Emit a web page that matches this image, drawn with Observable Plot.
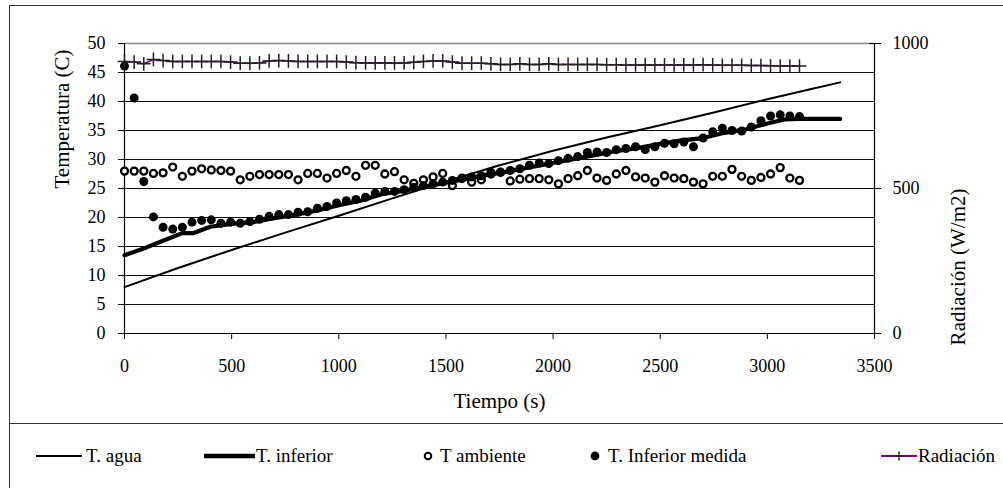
<!DOCTYPE html>
<html><head><meta charset="utf-8">
<script src="https://cdn.jsdelivr.net/npm/d3@7"></script>
<script src="https://cdn.jsdelivr.net/npm/@observablehq/plot@0.6"></script>
<style>
body{margin:0;background:#fff;font-family:"Liberation Serif","Times New Roman",serif;}
#page{position:relative;width:1003px;height:488px;overflow:hidden;background:#fff;}
#chart{position:absolute;left:0;top:0;}
#chart svg text{font-family:"Liberation Serif","Times New Roman",serif;}
#frame{position:absolute;left:9px;top:5px;width:1100px;height:600px;border:1px solid #333;box-sizing:border-box;pointer-events:none;}
#sep{position:absolute;left:9px;top:423px;width:1100px;border-top:1px solid #333;}
#legend{position:absolute;left:0;top:424px;width:1003px;height:64px;font-size:19px;color:#000;}
.item{position:absolute;top:0;height:64px;}
.item svg{position:absolute;top:0;left:0;overflow:visible;}
.item span{position:absolute;top:21px;line-height:22px;white-space:nowrap;}
</style></head><body>
<div id="page"><div id="chart"></div><div id="frame"></div><div id="sep"></div><div id="legend"></div></div>
<script>
// ---- data ----
const tiempos = [0,45,90,135,180,225,270,315,360,405,450,495,540,585,630,675,720,765,810,855,900,945,990,1035,1080,1125,1170,1215,1260,1305,1350,1395,1440,1485,1530,1575,1620,1665,1710,1755,1800,1845,1890,1935,1980,2025,2070,2115,2160,2205,2250,2295,2340,2385,2430,2475,2520,2565,2610,2655,2700,2745,2790,2835,2880,2925,2970,3015,3060,3105,3150];
const tAmbiente = [28.0,28.0,28.0,27.6,27.7,28.7,27.1,28.0,28.4,28.2,28.1,28.0,26.5,27.1,27.4,27.4,27.4,27.4,26.5,27.6,27.6,26.8,27.6,28.1,27.1,29.0,29.0,27.5,27.9,26.5,25.9,26.5,27.0,27.6,25.5,26.8,26.1,26.5,27.5,27.8,26.3,26.6,26.7,26.7,26.5,25.8,26.7,27.2,28.1,26.8,26.4,27.5,28.1,27.0,26.8,26.1,27.2,26.8,26.7,26.1,25.8,27.1,27.1,28.3,27.1,26.4,26.9,27.5,28.6,26.8,26.4];
const tInferiorMedida = [46.1,40.6,26.2,20.1,18.3,18.0,18.3,19.2,19.5,19.6,19.0,19.2,19.0,19.3,19.7,20.2,20.5,20.5,20.9,21.0,21.6,21.9,22.5,22.9,23.1,23.5,24.2,24.5,24.5,24.8,25.2,25.5,25.8,26.1,26.4,26.7,27.0,27.2,27.8,27.8,28.1,28.4,29.0,29.4,29.3,29.8,30.2,30.5,31.2,31.3,31.2,31.7,31.9,32.2,31.7,32.2,32.8,32.7,33.0,32.2,33.7,34.8,35.4,35.0,34.9,35.6,36.7,37.5,37.7,37.5,37.4];
const radiacion = [938,936,930,945,941,938,938,938,938,938,938,936,932,932,933,940,941,940,938,938,938,938,938,936,934,933,933,933,933,933,935,938,940,940,936,932,932,932,930,928,928,930,928,928,930,928,928,928,928,928,927,927,926,926,926,926,926,926,926,926,927,926,925,925,925,924,924,923,922,922,922];
const tiemposAgua = [0,250,500,750,1000,1250,1500,1750,2000,2250,2500,2750,3000,3200,3340];
const tAgua = [8.0,11.3,14.4,17.4,20.3,23.3,26.2,29.0,31.5,33.8,35.9,38.1,40.4,42.1,43.3];
const tiemposInferior = [0,100,200,270,320,400,500,600,700,800,900,1000,1100,1200,1300,1400,1500,1600,1700,1800,1900,2000,2100,2200,2300,2400,2500,2600,2700,2800,2900,3000,3080,3150,3250,3340];
const tInferior = [13.5,14.8,16.3,17.3,17.3,18.4,18.9,19.2,19.9,20.5,21.2,22.1,22.9,24.0,24.6,25.3,26.0,26.7,27.4,28.0,28.7,29.4,30.1,30.8,31.5,32.0,32.7,33.3,33.7,34.6,35.2,36.2,36.9,37.0,37.0,37.0];
const xTicks = [0,500,1000,1500,2000,2500,3000,3500];
const yTicks = [0,5,10,15,20,25,30,35,40,45,50];
const radTicks = [0,500,1000];
const radFactor = 20; // 1000 W/m2 on the right axis lines up with 50 C on the left

// ---- tables ----
const medidas = tiempos.map((t,i)=>({t, amb:tAmbiente[i], inf:tInferiorMedida[i], rad:radiacion[i]}));
const agua = tiemposAgua.map((t,i)=>({t, v:tAgua[i]}));
const inferior = tiemposInferior.map((t,i)=>({t, v:tInferior[i]}));

const serif = '"Liberation Serif","Times New Roman",serif';
const chart = Plot.plot({
  width:1003, height:423,
  marginLeft:124, marginRight:129, marginTop:43, marginBottom:90,
  style:{fontFamily:serif, fontSize:"18px", background:"transparent", color:"#000", overflow:"visible"},
  x:{domain:[0,3500]},
  y:{domain:[0,50]},
  marks:[
    Plot.gridY(yTicks.filter(d=>d>0 && d<50), {stroke:"#000", strokeOpacity:0.95, strokeWidth:1}),
    Plot.ruleY([50], {stroke:"#888", strokeWidth:1.5}),
    Plot.ruleY([0], {stroke:"#000", strokeWidth:1.2}),
    Plot.ruleX([0], {stroke:"#000", strokeWidth:1.2}),
    Plot.ruleX([3500], {stroke:"#000", strokeWidth:1.2}),
    Plot.axisX({ticks:xTicks, tickSize:6, tickPadding:20, tickFormat:d=>String(d), label:null, fontSize:18, fontFamily:serif}),
    Plot.axisY({ticks:yTicks, tickSize:6, tickPadding:13, tickFormat:d=>String(d), label:null, fontSize:18, fontFamily:serif}),
    Plot.axisY({anchor:"right", ticks:radTicks.map(r=>r/radFactor), tickSize:12, dx:-6, tickFormat:()=>"", label:null}),
    Plot.axisY({anchor:"right", ticks:radTicks.map(r=>r/radFactor), tickSize:0, tickPadding:18, tickFormat:d=>String(Math.round(d*radFactor)), label:null, fontSize:18, fontFamily:serif}),
    Plot.text(["Tiempo (s)"], {text:d=>d, frameAnchor:"bottom", dy:74, fontSize:21, fontFamily:serif}),
    Plot.text(["Temperatura (C)"], {text:d=>d, frameAnchor:"left", dx:-62, rotate:-90, fontSize:21, fontFamily:serif}),
    Plot.text(["Radiación (W/m2)"], {text:d=>d, frameAnchor:"right", dx:84, rotate:-90, fontSize:21, fontFamily:serif}),
    Plot.line(agua, {x:"t", y:"v", stroke:"#000", strokeWidth:2}),
    Plot.line(inferior, {x:"t", y:"v", stroke:"#000", strokeWidth:4.2}),
    Plot.dot(medidas, {x:"t", y:"amb", r:3.5, stroke:"#000", strokeWidth:2.3, fill:"white"}),
    Plot.dot(medidas, {x:"t", y:"inf", r:4.5, fill:"#000", stroke:"none"}),
    Plot.line(medidas, {x:"t", y:d=>d.rad/radFactor, stroke:"#800080", strokeWidth:1.5}),
    Plot.dot(medidas, {x:"t", y:d=>d.rad/radFactor, symbol:"plus", r:4.5, stroke:"#222", strokeWidth:1.5, fill:"none"})
  ]
});
document.getElementById("chart").appendChild(chart);

// ---- legend (HTML below the SVG) ----
const legend = document.getElementById("legend");
const cy = 32;
const items = [
  {label:"T. agua", left:36, textLeft:86, svg:`<line x1="0" x2="46" y1="${cy}" y2="${cy}" stroke="#000" stroke-width="2"/>`},
  {label:"T. inferior", left:204, textLeft:256, svg:`<line x1="0" x2="51" y1="${cy}" y2="${cy}" stroke="#000" stroke-width="4.5"/>`},
  {label:"T ambiente", left:424, textLeft:440, svg:`<circle cx="4" cy="${cy}" r="3.3" fill="white" stroke="#000" stroke-width="2"/>`},
  {label:"T. Inferior medida", left:591, textLeft:608, svg:`<circle cx="4" cy="${cy}" r="4.4" fill="#000"/>`},
  {label:"Radiación", left:881, textLeft:918, svg:`<line x1="0" x2="36" y1="${cy}" y2="${cy}" stroke="#800080" stroke-width="2"/><line x1="18" x2="18" y1="${cy-4.5}" y2="${cy+4.5}" stroke="#222" stroke-width="1.4"/><line x1="13.5" x2="22.5" y1="${cy}" y2="${cy}" stroke="#222" stroke-width="1.4"/>`}
];
for (const it of items) {
  const d = document.createElement("div");
  d.className = "item";
  d.style.left = it.left + "px";
  d.innerHTML = `<svg width="60" height="64">${it.svg}</svg><span style="left:${it.textLeft-it.left}px">${it.label}</span>`;
  legend.appendChild(d);
}
</script>
</body></html>
